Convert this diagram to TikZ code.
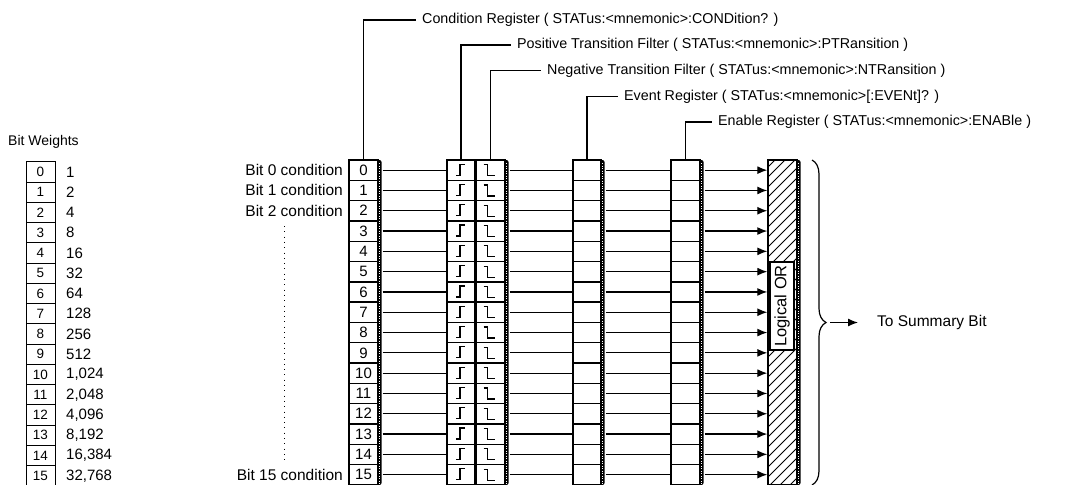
\documentclass[tikz,border=0pt]{standalone}
\usepackage{fontspec}
\setmainfont{Liberation Sans}
\usetikzlibrary{arrows.meta,decorations.pathreplacing}
\newcommand{\lblfont}{\fontsize{14.3}{16}\selectfont}
\newcommand{\bitfont}{\fontsize{15.5}{18}\selectfont}
\newcommand{\cellfont}{\fontsize{15}{17}\selectfont}
\newcommand{\wfont}{\fontsize{13.5}{15}\selectfont}
\newcommand{\vfont}{\fontsize{15}{17}\selectfont}
\begin{document}
\begin{tikzpicture}[x=1pt,y=-1pt,
  cell/.style={draw, line width=1.4pt, minimum width=29pt, minimum height=20.3pt, inner sep=0pt, font=\cellfont},
  wcell/.style={draw, line width=0.9pt, minimum width=29pt, minimum height=20.25pt, inner sep=0pt, font=\wfont},
  conn/.style={line width=1.25pt},
  arr/.style={conn, -{Latex[length=10pt,width=8pt]}},
  lbl/.style={anchor=west, inner sep=0pt, font=\lblfont},
  bitlbl/.style={anchor=east, inner sep=0pt, font=\bitfont},
  shade/.style={fill=black},
  dots/.style={white, line width=0.9pt, dash pattern=on 0.9pt off 1.6pt},
  sym/.style={line width=1.2pt}
]
\useasboundingbox (0,0) rectangle (1088,485);

% ---------- bit weights table ----------
\node[anchor=west, inner sep=0pt, font=\fontsize{14}{16}\selectfont] (bwt) at (8,142) {Bit Weights};
\foreach \i/\v in {0/1,1/2,2/4,3/8,4/16,5/32,6/64,7/128,8/256,9/512,10/{1,024},11/{2,048},12/{4,096},13/{8,192},14/{16,384},15/{32,768}}{
  \pgfmathsetmacro\yy{172+\i*20.25}
  \node[wcell] (w\i) at (40.5,\yy) {\i};
  \node[anchor=west, inner sep=0pt, font=\vfont] (v\i) at (66,\yy) {\v};
}

% ---------- shadow strips ----------
\foreach \xa in {378,505,601,700,797}{
  \fill[shade, rounded corners=2pt] (\xa-1,160) -- (\xa+3.5,160) -- (\xa+3.5,485) -- (\xa-1,485) -- cycle;
  \draw[dots] (\xa+1.6,163) -- (\xa+1.6,485);
}

% ---------- register columns ----------
\foreach \i in {0,...,15}{
  \pgfmathsetmacro\yy{170.15+\i*20.3}
  \node[cell] (c\i) at (363.5,\yy) {\i};
  \node[cell, minimum width=28pt] (p\i) at (461,\yy) {};
  \node[cell] (n\i) at (490.5,\yy) {};
  \node[cell, minimum width=28pt] (e\i) at (587,\yy) {};
  \node[cell] (b\i) at (685.5,\yy) {};
  \draw[sym] ([xshift=-5pt,yshift=-5pt]p\i.center) -- ++(4,0) -- ++(0,-11) -- ++(5,0);
  \draw[sym] ([xshift=-7pt,yshift=5.5pt]n\i.center) -- ++(4,0) -- ++(0,11) -- ++(7,0);
}

% ---------- logical OR box ----------
\node[draw, line width=1.4pt, minimum width=29pt, minimum height=325pt, inner sep=0pt] (orbox) at (782.5,322.5) {};
\begin{scope}
  \clip (768,160) rectangle (797,485);
  \foreach \c in {925,935,...,1295}{
    \draw[line width=0.8pt] (\c-485,485) -- (\c-160,160);
  }
\end{scope}
\draw[line width=1.4pt] (orbox.north west) rectangle (orbox.south east);
\node[draw, line width=1.1pt, fill=white, rotate=90, inner xsep=2pt, inner ysep=2pt, minimum width=88pt, minimum height=24pt, font=\fontsize{16.5}{18}\selectfont] (orlbl) at (782,306) {Logical OR};

% ---------- connectors ----------
\foreach \i in {0,...,15}{
  \draw[conn] ([xshift=4pt]c\i.east) -- (p\i.west);
  \draw[conn] ([xshift=4pt]n\i.east) -- (e\i.west);
  \draw[conn] ([xshift=4pt]e\i.east) -- (b\i.west);
  \draw[arr] ([xshift=4pt]b\i.east) -- (b\i.east -| orbox.west);
}

% ---------- bit condition labels ----------
\node[bitlbl] (l0) at (343,170.15) {Bit 0 condition};
\node[bitlbl] (l1) at (343,190.45) {Bit 1 condition};
\node[bitlbl] (l2) at (343,210.75) {Bit 2 condition};
\node[bitlbl] (l15) at (343,474.65) {Bit 15 condition};
\coordinate (dtop) at (284,226);
\coordinate (dbot) at (284,462);
\draw[line width=0.8pt, dash pattern=on 0.8pt off 4.5pt] (dtop) -- (dbot);

% ---------- register labels ----------
\node[lbl] (lc) at (422,20) {Condition Register ( STATus:<mnemonic>:CONDition? )};
\node[lbl] (lp) at (517,45) {Positive Transition Filter ( STATus:<mnemonic>:PTRansition )};
\node[lbl] (ln) at (547,70.5) {Negative Transition Filter ( STATus:<mnemonic>:NTRansition )};
\node[lbl] (le) at (624,96.5) {Event Register ( STATus:<mnemonic>[:EVENt]? )};
\node[lbl] (lb) at (718,122) {Enable Register ( STATus:<mnemonic>:ENABle )};
\draw[conn] (c0.north) |- ([xshift=-6pt]lc.west);
\draw[conn] (p0.north) |- ([xshift=-6pt]lp.west);
\draw[conn] (n0.north) |- ([xshift=-6pt]ln.west);
\draw[conn] (e0.north) |- ([xshift=-6pt]le.west);
\draw[conn] (b0.north) |- ([xshift=-6pt]lb.west);

% ---------- brace and summary ----------
\draw[line width=1.2pt, decorate, decoration={brace, amplitude=14pt}] (812,160) -- (812,485);
\coordinate (tip) at (830,322.5);
\node[anchor=west, inner sep=0pt, font=\bitfont] (sum) at (877,322.5) {To Summary Bit};
\draw[arr] (tip) -- ([xshift=-19pt]sum.west);
\end{tikzpicture}
\end{document}
